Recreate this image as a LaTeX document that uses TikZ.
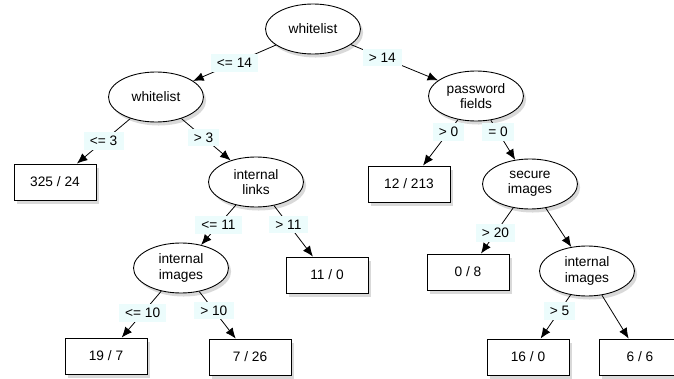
\documentclass[tikz,border=0pt]{standalone}
\usepackage{fontspec}
\setmainfont{Liberation Sans}
\usepackage{tikz}
\usetikzlibrary{shapes.geometric, shadows, arrows.meta}
\definecolor{lblbg}{RGB}{236,252,252}

\begin{document}
\begin{tikzpicture}[x=0.02cm, y=-0.02cm,
	font=\fontsize{7.8}{8.6}\selectfont,
	test/.style={draw, ellipse, fill=white, align=center, line width=0.5pt,
		minimum width=1.9cm, minimum height=1cm, inner sep=1pt,
		drop shadow={opacity=0.3, shadow xshift=1.5pt, shadow yshift=-2pt}},
	leaf/.style={draw, rectangle, fill=white, line width=0.5pt,
		minimum width=1.64cm, minimum height=0.72cm,
		drop shadow={opacity=0.3, shadow xshift=1.5pt, shadow yshift=-2pt}},
	arr/.style={-{Latex[length=6pt, width=5pt]}, line width=0.45pt},
	lbl/.style={fill=lblbg, inner xsep=3.5pt, inner ysep=2.2pt}]
	\useasboundingbox (0,0) rectangle (674,379);
	% Arbre de decision
	\node[test] (root) at (313,29) {whitelist};
	\node[test] (wl) at (156,97) {whitelist};
	\node[test] (pwd) at (476,96) {password\\fields};
	\node[leaf] (l1) at (55,182) {325 / 24};
	\node[test] (links) at (256,182) {internal\\links};
	\node[leaf] (l2) at (409,184) {12 / 213};
	\node[test] (sec) at (530,184) {secure\\images};
	\node[test] (imgL) at (181,268) {internal\\images};
	\node[leaf] (l3) at (327,275) {11 / 0};
	\node[leaf] (l4) at (468,272) {0 / 8};
	\node[test] (imgR) at (587,271) {internal\\images};
	\node[leaf] (l5) at (106,356) {19 / 7};
	\node[leaf] (l6) at (250,357) {7 / 26};
	\node[leaf] (l7) at (528,357) {16 / 0};
	\node[leaf] (l8) at (640,357) {6 / 6};
	\draw[arr] (root) -- node[lbl, pos=0.5] {<= 14} (wl);
	\draw[arr] (root) -- node[lbl, pos=0.36] {> 14} (pwd);
	\draw[arr] (wl) -- node[lbl, pos=0.5] {<= 3} (l1);
	\draw[arr] (wl) -- node[lbl, pos=0.45] {> 3} (links);
	\draw[arr] (links) -- node[lbl, pos=0.5] {<= 11} (imgL);
	\draw[arr] (links) -- node[lbl, pos=0.37] {> 11} (l3);
	\draw[arr] (imgL) -- node[lbl, pos=0.47] {<= 10} (l5);
	\draw[arr] (imgL) -- node[lbl, pos=0.4] {> 10} (l6);
	\draw[arr] (pwd) -- node[lbl, pos=0.27] {> 0} (l2);
	\draw[arr] (pwd) -- node[lbl, pos=0.3] {= 0} (sec);
	\draw[arr] (sec) -- node[lbl, pos=0.55] {> 20} (l4);
	\draw[arr] (sec) -- (imgR);
	\draw[arr] (imgR) -- node[lbl, pos=0.37] {> 5} (l7);
	\draw[arr] (imgR) -- (l8);
\end{tikzpicture}
\end{document}
